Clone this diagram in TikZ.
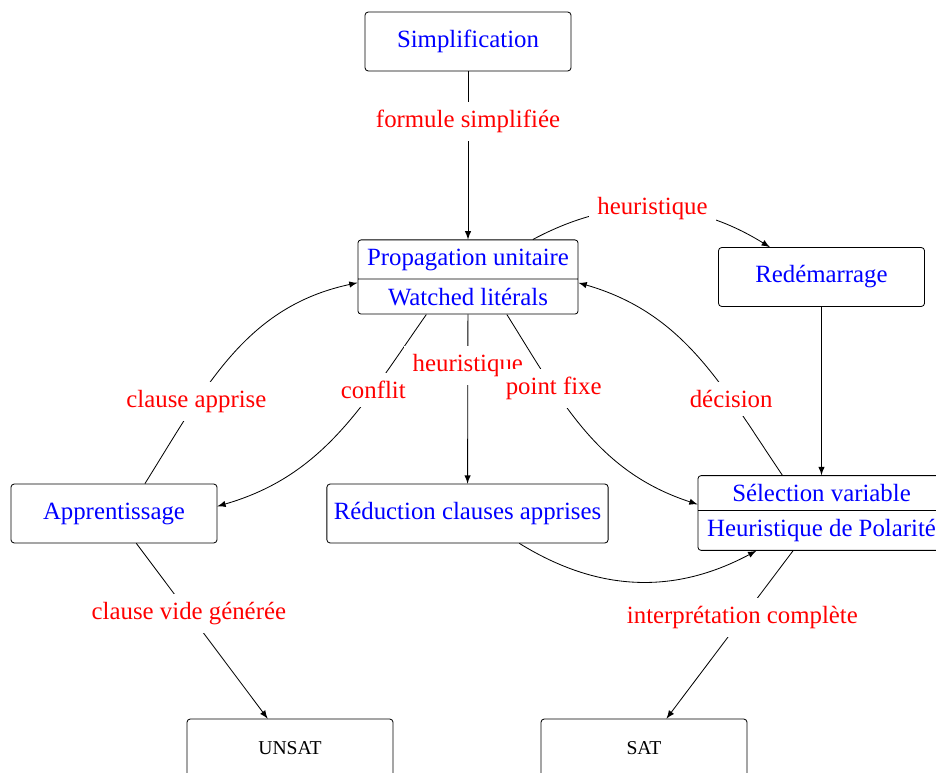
\documentclass[tikz,border=0pt]{standalone}
\usepackage{fontspec}
\setmainfont{Liberation Serif}
\usetikzlibrary{shapes.multipart}
\tikzset{
  boxnode/.style={draw, rounded corners=1.5pt, minimum width=3.5cm, minimum height=1cm,
    text=blue, font=\fontsize{12}{14.4}\selectfont},
  splitnode/.style={draw, rounded corners=1.5pt, rectangle split, rectangle split parts=2,
    inner ysep=4pt, inner xsep=4.4pt, text=blue, font=\fontsize{12}{14.4}\selectfont},
  endnode/.style={draw, rounded corners=1.5pt, minimum width=3.5cm, minimum height=1cm,
    text=black, font=\fontsize{9.5}{11}\selectfont},
  lbl/.style={fill=white, inner sep=4pt, text=red, font=\fontsize{12}{14.4}\selectfont},
  arr/.style={-latex}
}
\begin{document}
\begin{tikzpicture}[x=0.4835pt, y=-0.4835pt]
\useasboundingbox (0,0) rectangle (936,773);
\node[boxnode] (simp) at (468,41.5) {Simplification};
\node[splitnode] (prop) at (468,277) {Propagation unitaire\nodepart{two}Watched litérals};
\node[boxnode] (redem) at (821.5,277) {Redémarrage};
\node[boxnode] (appr) at (114,513.5) {Apprentissage};
\node[boxnode] (red) at (467.5,513.5) {Réduction clauses apprises};
\node[splitnode] (sel) at (821.5,513) {Sélection variable\nodepart{two}Heuristique de Polarité};
\node[endnode] (unsat) at (290,748.5) {UNSAT};
\node[endnode] (sat) at (644,748.5) {SAT};

\draw[arr] (simp) -- node[lbl,pos=0.3]{formule simplifiée} (prop);
\draw[arr] (prop) to[bend left] node[lbl]{heuristique} (redem);
\draw[arr] (appr.44.5) to[out=58,in=192] node[lbl,pos=0.3]{clause apprise} (prop.183.6);
\draw[arr] (prop.222.8) to[out=235,in=16] node[lbl,pos=0.3]{conflit} (appr.4.1);
\draw[arr] (prop) -- node[lbl,pos=0.3]{heuristique} (red);
\draw[arr] (prop.-44.3) to[out=-58,in=162] node[lbl,pos=0.3]{point fixe} (sel.176.3);
\draw[arr] (sel.136.1) to[out=124,in=-16] node[lbl,pos=0.3]{décision} (prop.-3.6);
\draw[arr] (redem) -- (sel);
\draw[arr] (red) to[bend right] (sel);
\draw[arr] (appr) -- node[lbl,pos=0.4]{clause vide générée} (unsat);
\draw[arr] (sel) -- node[lbl,pos=0.4]{interprétation complète} (sat);
\end{tikzpicture}
\end{document}
